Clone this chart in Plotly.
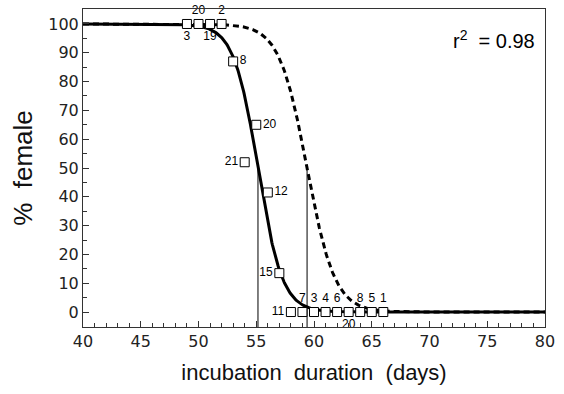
import numpy as np
import plotly.graph_objects as go

# observed data: incubation duration (days), % female, sample size labels
days = [49, 50, 51, 52, 53, 54, 55, 56, 57, 58, 59, 60, 61, 62, 63, 64, 65, 66]
pct_female = [100, 100, 100, 100, 87, 52, 65, 41.5, 13.5, 0, 0, 0, 0, 0, 0, 0, 0, 0]
n_labels = ["3", "20", "19", "2", "8", "21", "20", "12", "15", "11",
            "7", "3", "4", "6", "20", "8", "5", "1"]
label_pos = ["bottom center", "top center", "bottom center", "top center",
             "middle right", "middle left", "middle right", "middle right",
             "middle left", "middle left", "top center", "top center",
             "top center", "top center", "bottom center", "top center",
             "top center", "top center"]

# fitted logistic curves (pivotal duration, slope)
solid_pivot, solid_scale = 55.15, 1.05
dashed_pivot, dashed_scale = 59.4, 1.2
r2_text = "r<sup>2</sup>  = 0.98"

x_ticks = [40, 45, 50, 55, 60, 65, 70, 75, 80]
y_ticks = [0, 10, 20, 30, 40, 50, 60, 70, 80, 90, 100]

xc = np.linspace(40, 80, 801)
solid_y = 100 / (1 + np.exp((xc - solid_pivot) / solid_scale))
dashed_y = 100 / (1 + np.exp((xc - dashed_pivot) / dashed_scale))

ymin, ymax = -5.2, 105.2

fig = go.Figure()
fig.add_trace(go.Scatter(x=xc, y=dashed_y, mode="lines",
                         line=dict(color="black", width=3, dash="6px,4px"),
                         hoverinfo="skip"))
fig.add_trace(go.Scatter(x=xc, y=solid_y, mode="lines",
                         line=dict(color="black", width=3), hoverinfo="skip"))
for piv in [solid_pivot, dashed_pivot]:
    fig.add_trace(go.Scatter(x=[piv, piv], y=[ymin, 50], mode="lines",
                             line=dict(color="black", width=1), hoverinfo="skip"))
fig.add_trace(go.Scatter(x=days, y=pct_female, mode="markers+text",
                         text=n_labels, textposition=label_pos,
                         textfont=dict(family="Liberation Sans", size=12, color="black"),
                         marker=dict(symbol="square", size=9, color="white",
                                     line=dict(color="black", width=1)),
                         cliponaxis=False))

fig.add_annotation(xref="paper", yref="paper", x=0.983, y=0.905,
                   xanchor="right", yanchor="middle", showarrow=False,
                   text=r2_text,
                   font=dict(family="Liberation Sans", size=20, color="black"))

axis_common = dict(showline=True, linecolor="#333", linewidth=1, mirror=True,
                   ticks="inside", tickcolor="#333", ticklen=6, showgrid=False,
                   zeroline=False,
                   tickfont=dict(family="DejaVu Sans", size=16, color="#222"))
fig.update_xaxes(range=[40, 80], tickvals=x_ticks,
                 minor=dict(dtick=1, ticks="inside", ticklen=4, tickcolor="#333"),
                 title=dict(text="incubation\u00a0 duration\u00a0 (days)",
                            font=dict(family="Liberation Sans", size=22, color="#111"),
                            standoff=14),
                 **axis_common)
fig.update_yaxes(range=[ymin, ymax], tickvals=y_ticks,
                 minor=dict(dtick=5, tick0=0, ticks="inside", ticklen=4, tickcolor="#333"),
                 title=dict(text="%\u00a0 female",
                            font=dict(family="Liberation Sans", size=26, color="#111"),
                            standoff=8),
                 **axis_common)
fig.update_layout(width=564, height=394, margin=dict(l=83, r=19, t=9, b=67),
                  plot_bgcolor="white", paper_bgcolor="white", showlegend=False)
fig.write_html("out.html")
